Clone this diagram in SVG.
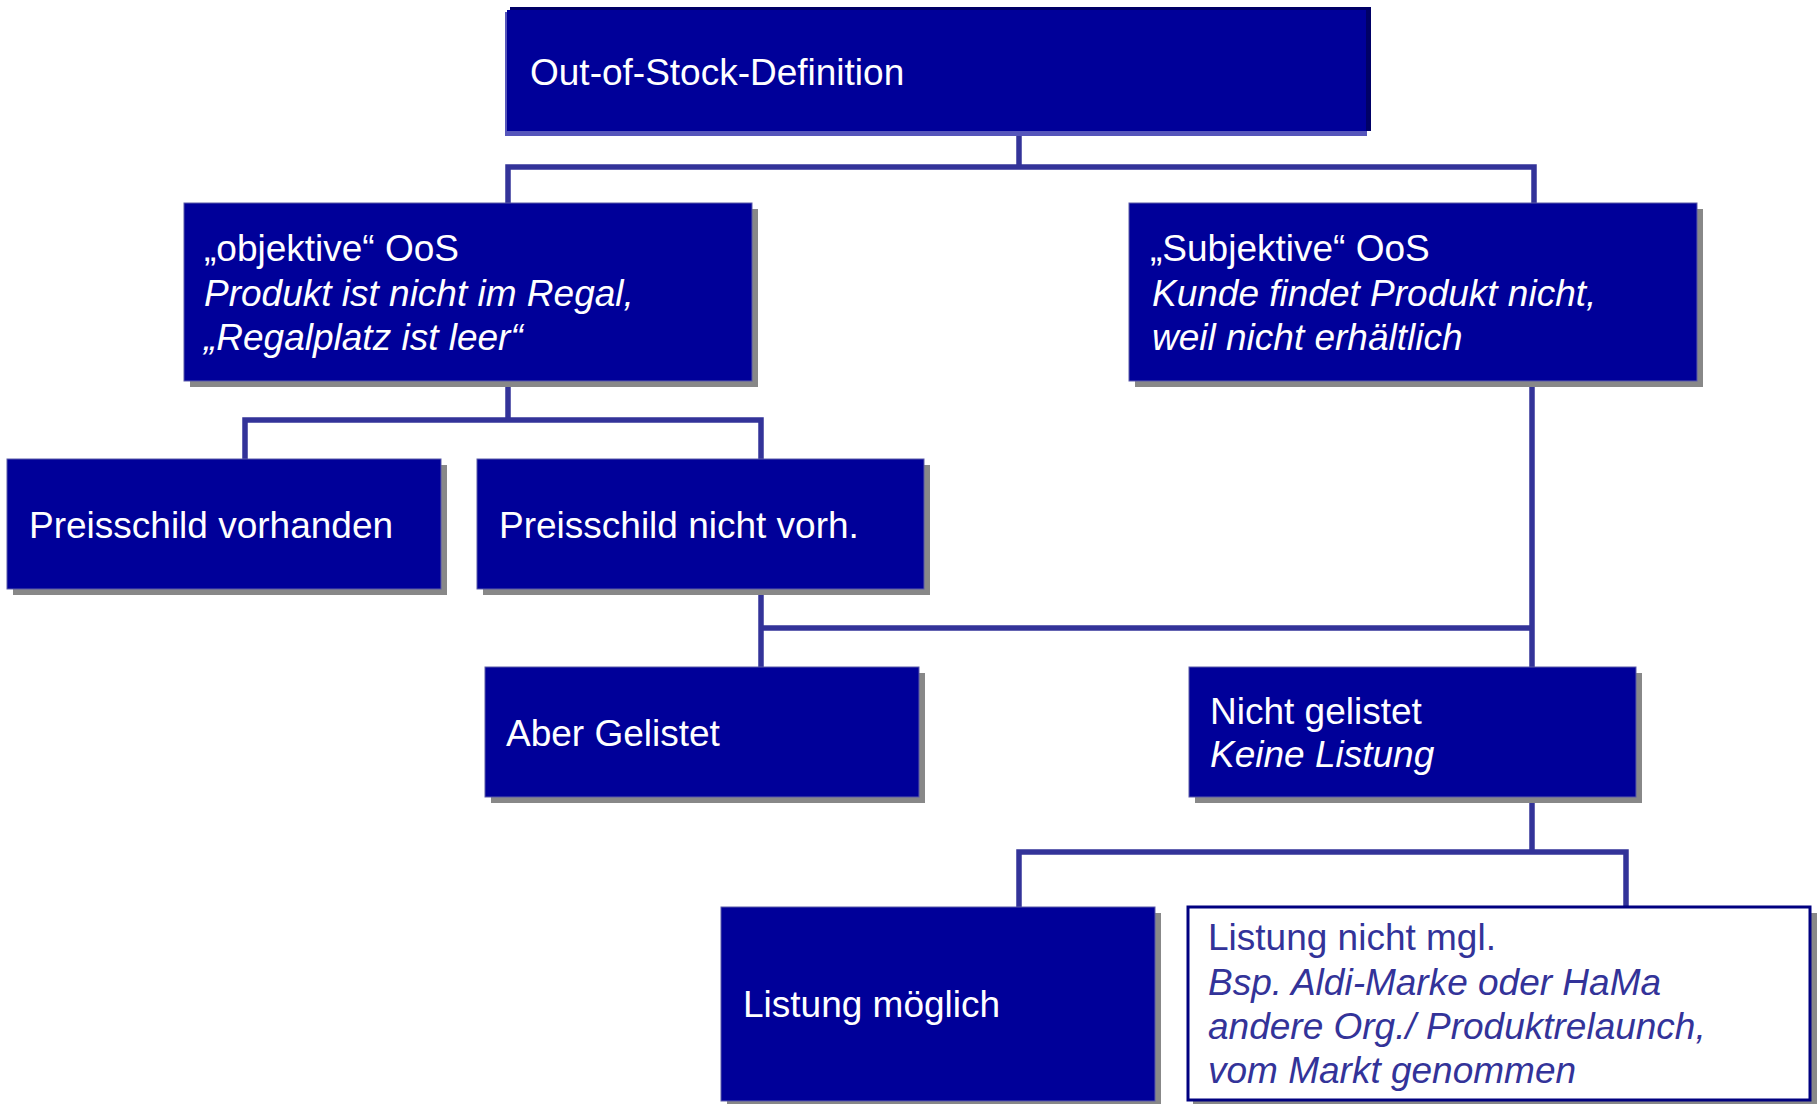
<svg xmlns="http://www.w3.org/2000/svg" width="1819" height="1104" viewBox="0 0 1819 1104">
<style>
.box{fill:#000099;stroke:#5a5aa8;stroke-width:1}
.sh{fill:#888888}
.conn{fill:none;stroke:#333399;stroke-width:5.5;stroke-linecap:butt;stroke-linejoin:miter}
.t{font-family:"Liberation Sans",Arial,sans-serif;font-size:37px;fill:#ffffff}
.i{font-style:italic}
.wbox{fill:#ffffff;stroke:#000080;stroke-width:3}
.tb{fill:#333399}
</style>
<rect width="1819" height="1104" fill="#ffffff"/>
<g id="connectors">
  <path class="conn" d="M1019,131 V167 M508,203 V167 H1534 V203"/>
  <path class="conn" d="M508,381 V420 M245,459 V420 H761 V459"/>
  <path class="conn" d="M761,589 V667 M761,628 H1532 M1532,381 V667"/>
  <path class="conn" d="M1532,797 V852 M1019,907 V852 H1626 V907"/>
</g>
<g id="n-root">
  <rect x="505" y="12" width="862" height="124" fill="#5555bb"/>
  <rect x="510" y="7" width="861" height="124" fill="#000066"/>
  <rect x="507" y="10" width="859" height="121" fill="#000099"/>
  <text class="t" x="530" y="85">Out-of-Stock-Definition</text>
</g>
<g id="n-objektiv">
  <rect class="sh" x="190" y="209" width="568" height="178"/>
  <rect class="box" x="184" y="203" width="568" height="178"/>
  <text class="t" x="204" y="261">„objektive“ OoS</text>
  <text class="t i" x="204" y="305.5">Produkt ist nicht im Regal,</text>
  <text class="t i" x="204" y="350">„Regalplatz ist leer“</text>
</g>
<g id="n-subjektiv">
  <rect class="sh" x="1135" y="209" width="568" height="178"/>
  <rect class="box" x="1129" y="203" width="568" height="178"/>
  <text class="t" x="1150" y="261">„Subjektive“ OoS</text>
  <text class="t i" x="1152" y="305.5">Kunde findet Produkt nicht,</text>
  <text class="t i" x="1152" y="350">weil nicht erhältlich</text>
</g>
<g id="n-preis-vorhanden">
  <rect class="sh" x="13" y="465" width="434" height="130"/>
  <rect class="box" x="7" y="459" width="434" height="130"/>
  <text class="t" x="29" y="538">Preisschild vorhanden</text>
</g>
<g id="n-preis-nicht">
  <rect class="sh" x="483" y="465" width="447" height="130"/>
  <rect class="box" x="477" y="459" width="447" height="130"/>
  <text class="t" x="499" y="538">Preisschild nicht vorh.</text>
</g>
<g id="n-aber-gelistet">
  <rect class="sh" x="491" y="673" width="434" height="130"/>
  <rect class="box" x="485" y="667" width="434" height="130"/>
  <text class="t" x="506" y="746">Aber Gelistet</text>
</g>
<g id="n-nicht-gelistet">
  <rect class="sh" x="1195" y="673" width="447" height="130"/>
  <rect class="box" x="1189" y="667" width="447" height="130"/>
  <text class="t" x="1210" y="724">Nicht gelistet</text>
  <text class="t i" x="1210" y="767">Keine Listung</text>
</g>
<g id="n-listung-moeglich">
  <rect class="sh" x="727" y="913" width="434" height="194"/>
  <rect class="box" x="721" y="907" width="434" height="194"/>
  <text class="t" x="743" y="1017">Listung möglich</text>
</g>
<g id="n-listung-nicht">
  <rect class="sh" x="1193" y="913" width="624" height="194"/>
  <rect class="wbox" x="1188" y="907" width="622" height="193"/>
  <text class="t tb" x="1208" y="950">Listung nicht mgl.</text>
  <text class="t tb i" x="1208" y="995">Bsp. Aldi-Marke oder HaMa</text>
  <text class="t tb i" x="1208" y="1039">andere Org./ Produktrelaunch,</text>
  <text class="t tb i" x="1208" y="1083">vom Markt genommen</text>
</g>
</svg>
